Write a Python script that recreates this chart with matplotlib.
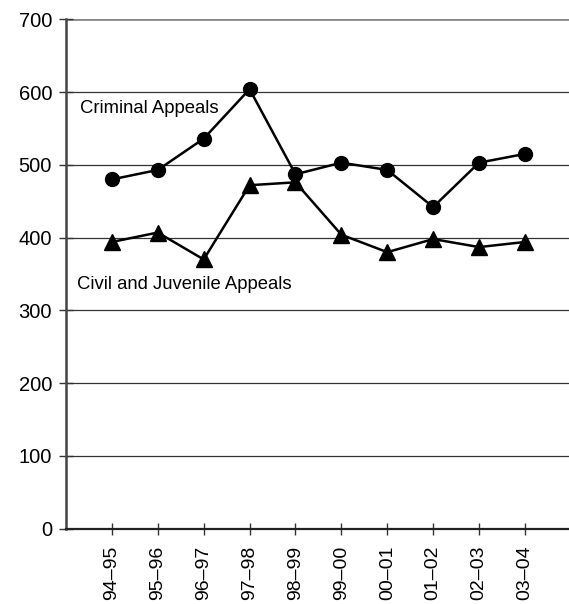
import matplotlib
matplotlib.use('Agg')
import matplotlib.pyplot as plt

# Appeals filed per fiscal year
years = ['94–95', '95–96', '96–97', '97–98', '98–99',
         '99–00', '00–01', '01–02', '02–03', '03–04']
criminal = [480, 493, 536, 604, 487, 503, 493, 442, 503, 515]
civil_juvenile = [394, 407, 370, 472, 476, 404, 380, 398, 387, 394]

plt.rcParams['font.family'] = ['Liberation Sans', 'DejaVu Sans']

fig = plt.figure(figsize=(5.69, 6.04), dpi=100)
ax = fig.add_axes([66 / 569, 75.3 / 604, 1 - 66 / 569, (528.7 - 19.3) / 604])

x = list(range(len(years)))

# horizontal gridlines
for v in range(100, 700, 100):
    ax.axhline(v, color='#333333', lw=0.9, zorder=1)
ax.axhline(700, color='#888888', lw=2.0, zorder=1)

ax.plot(x, criminal, color='black', lw=1.8, marker='o', markersize=10, zorder=3)
ax.plot(x, civil_juvenile, color='black', lw=1.8, marker='^', markersize=11.5, zorder=3)

ax.text(-0.70, 578, 'Criminal Appeals', fontsize=13.3, va='center', ha='left')
ax.text(-0.77, 335, 'Civil and Juvenile Appeals', fontsize=13.3, va='center', ha='left')

ax.set_xlim(-1, 9.96)
ax.set_ylim(0, 700)
ax.set_yticks(range(0, 800, 100))
ax.set_xticks(x)
ax.set_xticklabels(years, rotation=90, fontsize=14)
ax.tick_params(axis='y', labelsize=14.5, direction='inout', length=10, width=1, color='#333333', pad=5)
ax.tick_params(axis='x', direction='inout', length=8.5, width=1, color='#333333', pad=8)

for side in ['top', 'right']:
    ax.spines[side].set_visible(False)
ax.spines['left'].set_color('#444444')
ax.spines['left'].set_linewidth(1.8)
ax.spines['bottom'].set_color('#222222')
ax.spines['bottom'].set_linewidth(1.6)

fig.savefig('out.png', dpi=100)
